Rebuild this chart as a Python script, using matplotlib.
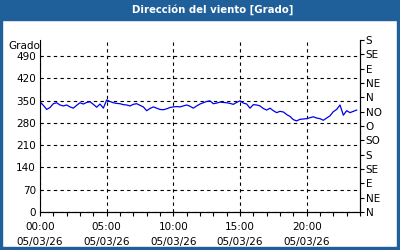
import matplotlib
matplotlib.use("Agg")
import matplotlib.pyplot as plt
from matplotlib.patches import Rectangle

title = "Dirección del viento [Grado]"
y_label = "Grado"
hours = [i * 0.25 for i in range(96)]
direction = [
    346, 335, 322, 328, 340, 343, 336, 333, 336, 330, 326, 335, 343, 339, 344, 346, 338, 329, 339, 326,
    352, 347, 343, 341, 340, 337, 336, 333, 338, 340, 335, 330, 318, 325, 330, 326, 322, 321, 324, 328,
    330, 331, 330, 333, 336, 332, 326, 333, 339, 343, 347, 349, 340, 342, 345, 344, 343, 341, 338, 344,
    349, 342, 339, 326, 337, 336, 333, 325, 320, 326, 318, 312, 316, 314, 306, 300, 290, 286, 291, 292,
    293, 296, 299, 295, 293, 288, 295, 302, 315, 322, 336, 304, 318, 312, 316, 320,
]
left_ticks = [0, 70, 140, 210, 280, 350, 420, 490]
right_ticks = [0, 45, 90, 135, 180, 225, 270, 315, 360, 405, 450, 495, 540]
right_labels = ["N", "NE", "E", "SE", "S", "SO", "O", "NO", "N", "NE", "E", "SE", "S"]
x_ticks = [0, 5, 10, 15, 20]
x_labels = ["00:00\n05/03/26", "05:00\n05/03/26", "10:00\n05/03/26", "15:00\n05/03/26", "20:00\n05/03/26"]

W, H = 400, 250
fig = plt.figure(figsize=(4, 2.5), dpi=100)
fig.patch.set_facecolor("white")
blue = "#1F5F9A"
# title bar and border
fig.add_artist(Rectangle((0, 1 - 20 / H), 1, 20 / H, transform=fig.transFigure, color=blue, zorder=0))
fig.add_artist(Rectangle((0, 0), 2 / W, 1, transform=fig.transFigure, color=blue, zorder=0))
fig.add_artist(Rectangle((1 - 3 / W, 0), 3 / W, 1, transform=fig.transFigure, color=blue, zorder=0))
fig.add_artist(Rectangle((0, 0), 1, 3 / H, transform=fig.transFigure, color=blue, zorder=0))
fig.text(213 / W, 1 - 10 / H, title, color="white", ha="center", va="center", fontsize=7.3, fontweight="bold")

ax = fig.add_axes([40 / W, 1 - 212 / H, 320 / W, 172 / H])
ax.plot(hours, direction, color="#0000EE", lw=0.9)
ax.set_xlim(0, 24)
ax.set_ylim(0, 540)
ax.set_yticks(left_ticks)
ax.set_yticklabels([str(v) for v in left_ticks], fontsize=7.5)
ax.set_xticks(x_ticks)
ax.set_xticklabels(x_labels, fontsize=7.5, linespacing=1.65)
ax.set_xticks(range(0, 25), minor=True)
ax.tick_params(axis="x", which="both", direction="out", length=3, width=0.8, pad=4)
ax.tick_params(axis="y", which="both", length=0, pad=3)
ax.grid(True, which="major", color="black", linestyle=(0, (3, 3)), lw=0.8)
for s in ax.spines.values():
    s.set_linewidth(0.8)
ax.spines["top"].set_visible(False)

ax2 = ax.twinx()
ax2.set_ylim(0, 540)
ax2.set_yticks(right_ticks)
ax2.set_yticklabels(right_labels, fontsize=7.5)
ax2.tick_params(axis="y", direction="out", length=3, width=0.8, pad=1)
ax2.spines["top"].set_visible(False)
ax2.spines["left"].set_visible(False)

fig.text(8 / W, 1 - 46 / H, y_label, fontsize=7.5, ha="left", va="center")

fig.savefig("out.png", dpi=100)
